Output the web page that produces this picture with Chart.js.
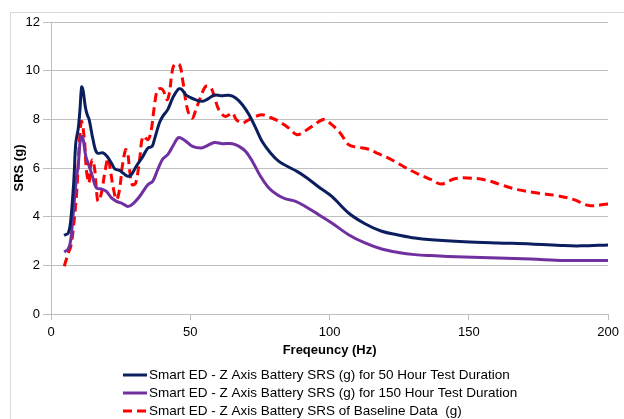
<!DOCTYPE html>
<html>
<head>
<meta charset="utf-8">
<script src="https://cdn.jsdelivr.net/npm/chart.js@4.4.1/dist/chart.umd.min.js"></script>
<style>
  html, body { margin: 0; padding: 0; background: #fff; }
  #wrap { width: 624px; height: 419px; position: relative; }
</style>
</head>
<body>
<div id="wrap"><canvas id="srs"></canvas></div>
<script>
// --- date ---
const freq50 = [4.7, 6.2, 7.1, 8.2, 8.9, 9.8, 10.4, 11.0, 11.5, 12.3, 13.0, 13.7, 15.1, 16.5, 18.7, 20.1, 21.7, 22.9, 24.6, 26.1, 27.6, 28.8, 30.6, 33.0, 34.8, 36.3, 37.1, 38.9, 40.1, 41.9, 43.7, 45.5, 46.7, 48.5, 50.3, 52.0, 54.4, 56.2, 58.6, 61.0, 63.9, 66.3, 68.7, 71.1, 73.5, 75.8, 78.8, 81.8, 84.8, 88.3, 91.9, 96.1, 100.8, 106.8, 112.7, 118.7, 124.6, 130.6, 136.5, 148.4, 160.4, 172.3, 184.2, 190.2, 200];
const srs50 = [3.23, 3.33, 3.87, 5.5, 7.03, 7.64, 8.4, 9.33, 9.2, 8.53, 8.19, 7.99, 7.16, 6.62, 6.62, 6.48, 6.2, 5.96, 5.9, 5.77, 5.66, 5.72, 6.07, 6.48, 6.82, 6.89, 7.16, 7.85, 8.12, 8.4, 8.88, 9.22, 9.25, 9.0, 8.88, 8.8, 8.74, 8.83, 9.0, 8.97, 8.99, 8.88, 8.6, 8.19, 7.64, 7.09, 6.62, 6.27, 6.07, 5.86, 5.59, 5.22, 4.83, 4.15, 3.71, 3.40, 3.25, 3.12, 3.05, 2.97, 2.92, 2.88, 2.81, 2.80, 2.84];

const freq150 = [4.75, 6.2, 7.1, 8.2, 9.2, 9.75, 10.4, 11.0, 11.5, 12.5, 13.3, 14.5, 16.3, 18.1, 19.9, 21.7, 23.5, 25.8, 27.6, 29.4, 31.8, 34.75, 36.5, 38.3, 40.1, 41.9, 43.7, 45.5, 46.7, 48.5, 50.8, 53.8, 55.6, 58.6, 61.5, 65.1, 67.5, 69.9, 72.3, 75.2, 78.2, 81.2, 84.2, 87.8, 91.3, 96.1, 100.8, 106.8, 112.7, 118.7, 124.6, 130.6, 136.5, 148.4, 160.4, 172.3, 184.2, 200];
const srs150 = [2.55, 2.67, 3.05, 4.42, 5.66, 6.07, 7.03, 7.3, 7.2, 6.48, 6.2, 5.8, 5.18, 5.14, 5.04, 4.77, 4.63, 4.53, 4.42, 4.53, 4.83, 5.31, 5.45, 5.93, 6.37, 6.55, 6.89, 7.23, 7.23, 7.09, 6.89, 6.82, 6.89, 7.05, 7.0, 7.0, 6.89, 6.68, 6.27, 5.66, 5.18, 4.9, 4.73, 4.63, 4.42, 4.08, 3.74, 3.26, 2.92, 2.67, 2.53, 2.44, 2.40, 2.34, 2.30, 2.26, 2.20, 2.20];

const freqBase = [4.75, 6.2, 7.1, 8.0, 9.2, 10.4, 11.0, 12.0, 12.7, 13.6, 14.2, 14.9, 15.7, 16.3, 16.9, 18.1, 19.3, 20.5, 21.3, 22.25, 23.5, 24.6, 25.6, 26.8, 27.6, 28.2, 29.2, 30.4, 31.8, 33.0, 34.75, 35.9, 37.1, 38.3, 40.1, 41.6, 42.5, 43.4, 44.3, 46.1, 47.25, 48.5, 49.6, 50.8, 52.0, 53.8, 55.6, 57.4, 58.6, 60.4, 62.7, 65.1, 66.5, 68.7, 71.1, 73.5, 75.8, 78.2, 81.8, 85.4, 88.3, 91.3, 93.7, 97.9, 100.8, 103.8, 106.8, 109.75, 113.4, 117.5, 122.25, 127.0, 131.8, 136.5, 140.1, 144.9, 149.6, 155.6, 161.5, 167.5, 174.6, 181.8, 187.75, 193.1, 200];
const srsBase = [1.96, 2.5, 2.78, 3.5, 4.97, 7.44, 7.92, 7.16, 5.93, 5.38, 6.07, 6.34, 5.93, 5.11, 4.63, 4.97, 5.8, 6.41, 5.93, 5.25, 4.70, 5.11, 6.07, 6.75, 6.55, 5.93, 5.31, 5.38, 6.34, 7.3, 7.16, 7.5, 8.53, 9.22, 9.22, 8.81, 9.08, 9.9, 10.25, 10.25, 9.63, 8.67, 8.19, 8.05, 8.4, 8.94, 9.36, 9.29, 8.94, 8.35, 8.12, 8.26, 7.99, 7.85, 7.99, 8.12, 8.19, 8.1, 7.92, 7.64, 7.37, 7.53, 7.71, 7.99, 7.78, 7.44, 6.96, 6.86, 6.79, 6.59, 6.34, 6.03, 5.75, 5.52, 5.34, 5.56, 5.59, 5.52, 5.31, 5.11, 4.97, 4.86, 4.70, 4.46, 4.52];

const seriesLabels = [
  'Smart ED - Z Axis Battery SRS (g) for 50 Hour Test Duration',
  'Smart ED - Z Axis Battery SRS (g) for 150 Hour Test Duration',
  'Smart ED - Z Axis Battery SRS of Baseline Data  (g)'
];
const xTitle = 'Freqeuncy (Hz)';
const yTitle = 'SRS (g)';

const FONT = "'Liberation Sans', Arial, sans-serif";
const GRID = '#bfbfbf';

const pts = (xs, ys) => xs.map((x, i) => ({ x, y: ys[i] }));

// chenar exterior + legenda verticala (aliniata la stanga ca in Excel)
const excelFrame = {
  id: 'excelFrame',
  beforeDraw(chart) {
    const ctx = chart.ctx;
    ctx.save();
    ctx.strokeStyle = '#d9d9d9';
    ctx.lineWidth = 1;
    ctx.strokeRect(10.5, 12.5, 700, 500);
    ctx.restore();
  },
  afterDraw(chart) {
    const ctx = chart.ctx;
    const x0 = 123, x1 = 147, tx = 149;
    const rows = [375, 393, 411];
    ctx.save();
    ctx.font = '13.5px ' + FONT;
    ctx.textBaseline = 'middle';
    ctx.textAlign = 'left';
    chart.data.datasets.forEach((ds, i) => {
      const y = rows[i];
      ctx.strokeStyle = ds.borderColor;
      ctx.lineWidth = 3;
      ctx.setLineDash(ds.borderDash || []);
      ctx.beginPath();
      ctx.moveTo(x0, y);
      ctx.lineTo(x1, y);
      ctx.stroke();
      ctx.setLineDash([]);
      ctx.fillStyle = '#000';
      ctx.fillText(ds.label, tx, y + 0.5);
    });
    ctx.restore();
  }
};

new Chart(document.getElementById('srs'), {
  type: 'line',
  data: {
    datasets: [
      { label: seriesLabels[0], data: pts(freq50, srs50), borderColor: '#0b1f5e', borderWidth: 3, pointRadius: 0, tension: 0.35, fill: false },
      { label: seriesLabels[1], data: pts(freq150, srs150), borderColor: '#7030a0', borderWidth: 3, pointRadius: 0, tension: 0.35, fill: false },
      { label: seriesLabels[2], data: pts(freqBase, srsBase), borderColor: '#ff0000', borderWidth: 3, borderDash: [9, 5], pointRadius: 0, tension: 0.35, fill: false }
    ]
  },
  options: {
    responsive: true,
    maintainAspectRatio: false,
    animation: false,
    layout: { padding: { left: 12, right: 13, top: 22, bottom: 61 } },
    plugins: { legend: { display: false }, tooltip: { enabled: false } },
    scales: {
      x: {
        type: 'linear', min: 0, max: 200,
        afterFit: s => { s.height = 44; },
        grid: { drawOnChartArea: false, color: GRID, tickLength: 6 },
        border: { color: GRID },
        ticks: { stepSize: 50, padding: 5, color: '#000', font: { family: FONT, size: 13 } },
        title: { display: true, text: xTitle, color: '#000', padding: 0, font: { family: FONT, size: 13, weight: 'bold' } }
      },
      y: {
        min: 0, max: 12,
        afterFit: s => { s.width = 39; },
        grid: { color: GRID, tickLength: 8 },
        border: { color: GRID },
        ticks: { stepSize: 2, padding: 3, color: '#000', font: { family: FONT, size: 13 } },
        title: { display: true, text: yTitle, color: '#000', padding: 0, font: { family: FONT, size: 13, weight: 'bold' } }
      }
    }
  },
  plugins: [excelFrame]
});
</script>
</body>
</html>
